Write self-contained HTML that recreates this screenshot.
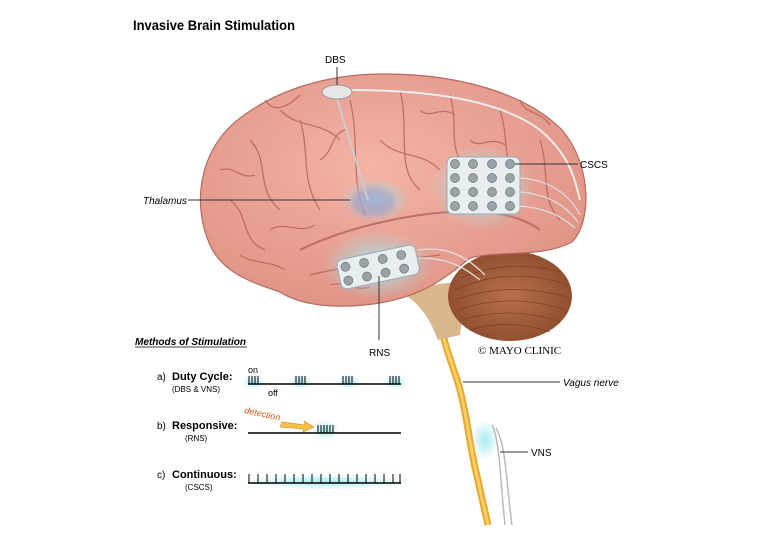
<!DOCTYPE html>
<html><head><style>
body{margin:0;background:#fff;width:767px;height:535px;overflow:hidden;font-family:"Liberation Sans",Arial,sans-serif}
svg{display:block}
</style></head><body>
<svg width="767" height="535" viewBox="0 0 767 535" font-family="Liberation Sans, Arial, sans-serif">
<defs>
<radialGradient id="br" cx="45%" cy="40%" r="65%"><stop offset="0" stop-color="#f4b4a6"/><stop offset="1" stop-color="#df9284"/></radialGradient>
<radialGradient id="cb" cx="50%" cy="50%" r="60%"><stop offset="0" stop-color="#b8704a"/><stop offset="1" stop-color="#8a4a2c"/></radialGradient>
<radialGradient id="glow"><stop offset="0" stop-color="#9fe8ef" stop-opacity=".9"/><stop offset="1" stop-color="#9fe8ef" stop-opacity="0"/></radialGradient>
<filter id="bl"><feGaussianBlur stdDeviation="3"/></filter>
</defs>
<text x="133" y="30" font-size="14" font-weight="bold" textLength="162" lengthAdjust="spacingAndGlyphs">Invasive Brain Stimulation</text>
<path d="M440,320 C445,350 455,370 460,390 C468,420 470,450 478,480 C482,500 486,515 488,525" stroke="#e7a92a" stroke-width="7" fill="none"/>
<path d="M440,320 C445,350 455,370 460,390 C468,420 470,450 478,480 C482,500 486,515 488,525" stroke="#f6cf6a" stroke-width="3" fill="none"/>
<ellipse cx="485" cy="440" rx="14" ry="20" fill="url(#glow)"/>
<path d="M492,425 C500,440 500,480 505,525 M496,428 C506,445 506,480 512,525" stroke="#bbb" stroke-width="1.5" fill="none"/>
<path d="M395,290 C420,300 430,320 438,340 L460,335 C462,315 470,290 485,278 Z" fill="#d9b68c"/>
<ellipse cx="510" cy="296" rx="62" ry="45" fill="url(#cb)"/>
<g stroke="#6e3820" stroke-width=".8" fill="none" opacity=".7">
<path d="M455,290 Q510,265 568,285"/><path d="M455,300 Q510,280 570,298"/><path d="M458,310 Q510,292 566,310"/><path d="M462,320 Q510,305 560,322"/><path d="M470,330 Q510,318 550,332"/><path d="M460,278 Q510,258 560,272"/>
</g>
<path d="M210,245 C192,205 198,150 240,118 C280,88 330,74 385,74 C455,74 525,92 562,130 C592,165 592,222 572,242 C542,258 500,250 470,258 C445,278 425,295 380,303 C335,310 300,305 280,292 C250,282 222,272 210,245 Z" fill="url(#br)" stroke="#b46a5e" stroke-width="1.2"/>
<g stroke="#b05e55" stroke-width="1.3" fill="none" opacity=".75">
<path d="M300,120 C310,150 300,180 320,210"/><path d="M350,100 C360,140 350,180 365,215"/><path d="M400,90 C410,130 395,170 420,190"/><path d="M450,95 C460,130 445,150 470,170"/><path d="M250,140 C270,160 255,190 280,210"/><path d="M230,200 C250,215 240,240 265,250"/><path d="M500,110 C510,140 500,160 520,175"/><path d="M540,140 C550,170 540,200 560,220"/><path d="M280,110 C300,130 320,120 340,140"/><path d="M380,140 C400,160 420,150 440,170"/>
<path d="M220,170 C235,165 240,180 255,175"/><path d="M265,100 C275,115 290,105 300,95"/><path d="M320,160 C335,150 330,135 345,130"/><path d="M270,230 C285,220 300,235 315,225"/><path d="M420,110 C430,120 440,105 455,115"/><path d="M470,140 C480,150 490,135 505,145"/><path d="M520,100 C525,115 540,110 550,125"/><path d="M240,255 C255,265 270,260 285,270"/><path d="M330,285 C345,280 355,292 370,287"/>
<path d="M300,250 C340,230 400,215 450,212 C490,210 520,215 540,230" stroke-width="2"/>
<path d="M310,275 C350,265 400,260 440,255"/>
</g>
<ellipse cx="375" cy="200" rx="35" ry="22" fill="url(#glow)"/>
<ellipse cx="373" cy="202" rx="22" ry="15" fill="#9a8fc4" opacity=".5" filter="url(#bl)"/>
<line x1="336" y1="96" x2="368" y2="200" stroke="#ccc" stroke-width="2"/>
<path d="M350,90 C430,90 500,100 540,130 C570,155 575,180 580,200" stroke="#eee" stroke-width="2" fill="none"/>
<ellipse cx="337" cy="92" rx="15" ry="7" fill="#e6e6e6" stroke="#999"/>
<line x1="337" y1="67" x2="337" y2="85" stroke="#333"/>
<text x="325" y="63" font-size="10">DBS</text>
<rect x="430" y="145" width="105" height="85" fill="url(#glow)" rx="30"/>
<rect x="447" y="157" width="73" height="57" rx="6" fill="#e8eef0" stroke="#9ab"/>
<g fill="#9aa4a8" stroke="#6c7478" stroke-width=".7">
<circle cx="455" cy="164" r="4.5"/><circle cx="473" cy="164" r="4.5"/><circle cx="492" cy="164" r="4.5"/><circle cx="510" cy="164" r="4.5"/>
<circle cx="455" cy="178" r="4.5"/><circle cx="473" cy="178" r="4.5"/><circle cx="492" cy="178" r="4.5"/><circle cx="510" cy="178" r="4.5"/>
<circle cx="455" cy="192" r="4.5"/><circle cx="473" cy="192" r="4.5"/><circle cx="492" cy="192" r="4.5"/><circle cx="510" cy="192" r="4.5"/>
<circle cx="455" cy="206" r="4.5"/><circle cx="473" cy="206" r="4.5"/><circle cx="492" cy="206" r="4.5"/><circle cx="510" cy="206" r="4.5"/>
</g>
<g stroke="#ddd" stroke-width="1.3" fill="none"><path d="M520,178 C550,180 570,195 580,215"/><path d="M520,192 C550,195 565,205 578,222"/><path d="M520,206 C545,208 560,215 575,228"/></g>
<line x1="515" y1="164" x2="578" y2="164" stroke="#333"/>
<text x="580" y="168" font-size="10">CSCS</text>
<ellipse cx="378" cy="265" rx="55" ry="35" fill="url(#glow)"/>
<g transform="rotate(-12 378 266)">
<rect x="338" y="252" width="80" height="30" rx="6" fill="#e8eef0" stroke="#9ab"/>
<g fill="#9aa4a8" stroke="#6c7478" stroke-width=".7">
<circle cx="346" cy="260" r="4.5"/><circle cx="365" cy="260" r="4.5"/><circle cx="384" cy="260" r="4.5"/><circle cx="403" cy="260" r="4.5"/>
<circle cx="346" cy="274" r="4.5"/><circle cx="365" cy="274" r="4.5"/><circle cx="384" cy="274" r="4.5"/><circle cx="403" cy="274" r="4.5"/>
</g></g>
<g stroke="#ddd" stroke-width="1.3" fill="none"><path d="M418,250 C450,245 470,260 485,275"/><path d="M418,258 C450,258 465,268 480,280"/></g>
<line x1="379" y1="276" x2="379" y2="340" stroke="#333"/>
<text x="369" y="356" font-size="10">RNS</text>
<line x1="188" y1="200" x2="350" y2="200" stroke="#333"/>
<text x="143" y="204" font-size="10" font-style="italic">Thalamus</text>
<text x="478" y="354" font-size="11" font-family="Liberation Serif, serif">© MAYO CLINIC</text>
<line x1="463" y1="382" x2="560" y2="382" stroke="#333"/>
<text x="563" y="386" font-size="10" font-style="italic">Vagus nerve</text>
<line x1="500" y1="452" x2="528" y2="452" stroke="#333"/>
<text x="531" y="456" font-size="10">VNS</text>
<text x="135" y="345" font-size="10" font-weight="bold" font-style="italic" textLength="111" lengthAdjust="spacingAndGlyphs">Methods of Stimulation</text>
<line x1="135" y1="347" x2="247" y2="347" stroke="#000" stroke-width=".8"/>
<text x="157" y="380" font-size="10">a)</text><text x="172" y="380" font-size="11" font-weight="bold">Duty Cycle:</text>
<text x="172" y="392" font-size="8">(DBS &amp; VNS)</text>
<text x="248" y="373" font-size="9">on</text><text x="268" y="396" font-size="9">off</text>
<g fill="url(#glow)"><ellipse cx="254" cy="382" rx="12" ry="8"/><ellipse cx="301" cy="382" rx="12" ry="8"/><ellipse cx="349" cy="382" rx="12" ry="8"/><ellipse cx="395" cy="382" rx="12" ry="8"/><ellipse cx="325" cy="430" rx="14" ry="10"/><rect x="240" y="474" width="170" height="16" rx="8"/></g>
<line x1="248" y1="384" x2="401" y2="384" stroke="#000" stroke-width="1.5"/>
<g stroke="#000" stroke-width="1"><path d="M249,376v8M252,376v8M255,376v8M258,376v8M296,376v8M299,376v8M302,376v8M305,376v8M343,376v8M346,376v8M349,376v8M352,376v8M390,376v8M393,376v8M396,376v8M399,376v8"/></g>
<text x="157" y="429" font-size="10">b)</text><text x="172" y="429" font-size="11" font-weight="bold">Responsive:</text>
<text x="185" y="441" font-size="8">(RNS)</text>
<line x1="248" y1="433" x2="401" y2="433" stroke="#000" stroke-width="1.5"/>
<g stroke="#000"><path d="M318,425v8M321,425v8M324,425v8M327,425v8M330,425v8M333,425v8"/></g>
<text x="244" y="413" font-size="9" fill="#d45a1a" font-style="italic" transform="rotate(12 244 413)">detection</text>
<path d="M282,422 L305,425 L304,421 L314,427 L303,432 L304,429 L280,427 Z" fill="#f3c24a" stroke="#d9962a" stroke-width=".7"/>
<text x="157" y="478" font-size="10">c)</text><text x="172" y="478" font-size="11" font-weight="bold">Continuous:</text>
<text x="185" y="490" font-size="8">(CSCS)</text>
<line x1="248" y1="483" x2="401" y2="483" stroke="#000" stroke-width="1.5"/>
<g stroke="#000"><path d="M249,474v9M258,474v9M267,474v9M276,474v9M285,474v9M294,474v9M303,474v9M312,474v9M321,474v9M330,474v9M339,474v9M348,474v9M357,474v9M366,474v9M375,474v9M384,474v9M393,474v9M400,474v9"/></g>
</svg>
</body></html>
